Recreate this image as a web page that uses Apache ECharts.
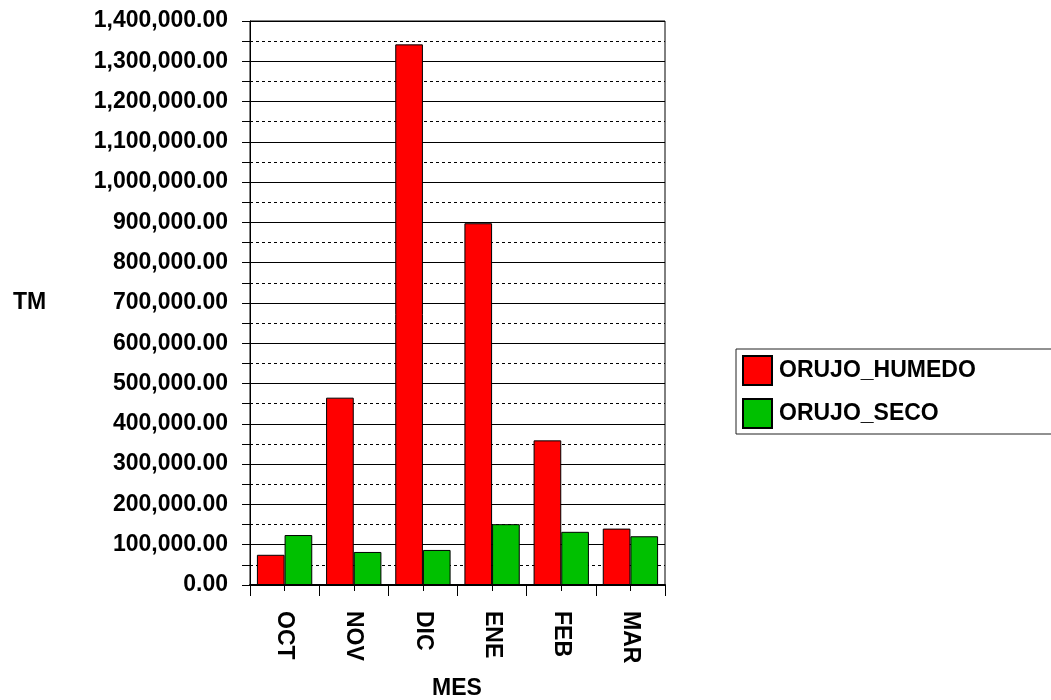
<!DOCTYPE html>
<html>
<head>
<meta charset="utf-8">
<script src="https://cdn.jsdelivr.net/npm/echarts@6/dist/echarts.min.js"></script>
<style>html,body{margin:0;padding:0;background:#fff}#c{width:1051px;height:700px}</style>
</head>
<body>
<div id="c"></div>
<script>
var categories = ['OCT', 'NOV', 'DIC', 'ENE', 'FEB', 'MAR'];
var orujoHumedo = [75000, 465000, 1342000, 898000, 359000, 140000];
var orujoSeco = [124000, 82000, 87000, 151000, 132000, 121000];
var seriesNames = ['ORUJO_HUMEDO', 'ORUJO_SECO'];
var yTitle = 'TM';
var xTitle = 'MES';

var FONT = '"Liberation Sans", Arial, sans-serif';
var FS = 23;
var chart = echarts.init(document.getElementById('c'));
chart.setOption({
  animation: false,
  backgroundColor: '#fff',
  textStyle: { fontFamily: FONT },
  grid: { left: 250, top: 21, right: 386, bottom: 115, show: true, borderColor: '#000', borderWidth: 1, backgroundColor: 'transparent' },
  legend: {
    orient: 'vertical',
    left: 736, top: 349,
    padding: [6, 100, 5, 6],
    itemGap: 12,
    itemWidth: 29, itemHeight: 29,
    borderColor: '#222', borderWidth: 1,
    icon: 'rect',
    textStyle: { fontFamily: FONT, fontWeight: 'bold', fontSize: FS, color: '#000', padding: [0, 0, 0, 2] },
    data: seriesNames
  },
  graphic: [
    { type: 'text', x: 13, y: 303, style: { text: yTitle, fontFamily: FONT, fontWeight: 'bold', fontSize: FS, fill: '#000', textAlign: 'left', textVerticalAlign: 'middle' } },
    { type: 'text', x: 457, y: 689, style: { text: xTitle, fontFamily: FONT, fontWeight: 'bold', fontSize: FS, fill: '#000', textAlign: 'center', textVerticalAlign: 'middle' } }
  ],
  xAxis: [{
    type: 'category',
    data: categories,
    position: 'bottom',
    axisLine: { lineStyle: { color: '#000', width: 2 } },
    axisTick: { show: true, length: 11, lineStyle: { color: '#000' } },
    axisLabel: { rotate: -90, margin: 26, fontFamily: FONT, fontWeight: 'bold', fontSize: FS, color: '#000' },
    splitLine: { show: false }
  }, {
    type: 'category',
    data: categories,
    position: 'bottom',
    axisLine: { show: false },
    axisTick: { show: true, alignWithLabel: true, length: 6, lineStyle: { color: '#000' } },
    axisLabel: { show: false },
    splitLine: { show: false }
  }],
  yAxis: {
    type: 'value',
    min: 0, max: 1400000, interval: 100000,
    axisLine: { show: true, lineStyle: { color: '#000' } },
    axisTick: { show: true, length: 8, lineStyle: { color: '#000' } },
    minorTick: { show: true, splitNumber: 2, length: 8, lineStyle: { color: '#000' } },
    minorSplitLine: { show: true, lineStyle: { color: '#000', type: [3, 3], width: 1 } },
    splitLine: { show: true, lineStyle: { color: '#000', width: 1 } },
    axisLabel: {
      margin: 22, fontFamily: FONT, fontWeight: 'bold', fontSize: FS, color: '#000',
      formatter: function (v) { return v.toLocaleString('en-US', { minimumFractionDigits: 2, maximumFractionDigits: 2 }); }
    }
  },
  series: [{
    name: seriesNames[0], type: 'bar', data: orujoHumedo,
    barGap: '0%', barCategoryGap: '20%',
    itemStyle: { color: '#ff0000', borderColor: '#000', borderWidth: 1 }
  }, {
    name: seriesNames[1], type: 'bar', data: orujoSeco,
    barGap: '0%', barCategoryGap: '20%',
    itemStyle: { color: '#00c000', borderColor: '#000', borderWidth: 1 }
  }]
});
</script>
</body>
</html>
